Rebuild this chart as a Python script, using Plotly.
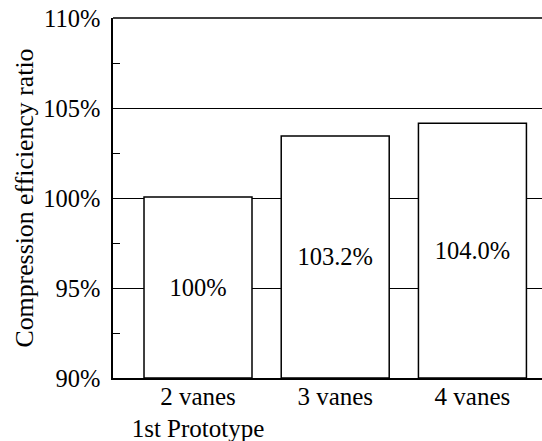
import plotly.graph_objects as go

categories = ["2 vanes<br>1st Prototype", "3 vanes", "4 vanes"]
values = [100.05, 103.45, 104.15]
bar_labels = ["100%", "103.2%", "104.0%"]
y_ticks = [90, 95, 100, 105, 110]
y_tick_text = ["90%", "95%", "100%", "105%", "110%"]

FONT = "Times New Roman"

fig = go.Figure()
fig.add_trace(go.Bar(
    x=categories,
    y=[v - 90 for v in values],
    base=90,
    text=bar_labels,
    textposition="inside",
    insidetextanchor="middle",
    textangle=0,
    textfont=dict(family=FONT, size=24.5, color="black"),
    marker=dict(color="white", line=dict(color="black", width=1.5)),
    width=0.787,
))

fig.update_layout(
    width=542, height=441,
    margin=dict(l=113, r=0, t=18, b=63, autoexpand=False),
    paper_bgcolor="white", plot_bgcolor="white",
    showlegend=False,
    font=dict(family=FONT, size=25, color="black"),
)
fig.update_xaxes(
    type="category",
    range=[-0.6195, 2.507],
    automargin=False,
    showline=True, linecolor="black", linewidth=1.5,
    showgrid=False, ticks="",
    tickfont=dict(family=FONT, size=25, color="black"),
    ticklabelstandoff=-5,
)
fig.update_yaxes(
    range=[90, 110],
    automargin=False,
    tickvals=y_ticks, ticktext=y_tick_text,
    showline=True, linecolor="black", linewidth=1.5,
    showgrid=True, gridcolor="black", gridwidth=1,
    ticks="inside", ticklen=7, tickcolor="black",
    minor=dict(ticks="inside", ticklen=7, tickcolor="black", tickwidth=1, dtick=2.5, tick0=90, showgrid=False),
    tickfont=dict(family=FONT, size=24.5, color="black"),
    ticklabelstandoff=6,
    zeroline=False,
    title=dict(text="Compression efficiency ratio", font=dict(family=FONT, size=25.8, color="black"), standoff=2),
)
fig.add_shape(type="line", xref="paper", yref="paper", x0=0, x1=1, y0=1, y1=1,
              line=dict(color="black", width=1.5))

fig.write_html("out.html", config={"displayModeBar": False},
               post_script="document.body.style.margin='0';")
